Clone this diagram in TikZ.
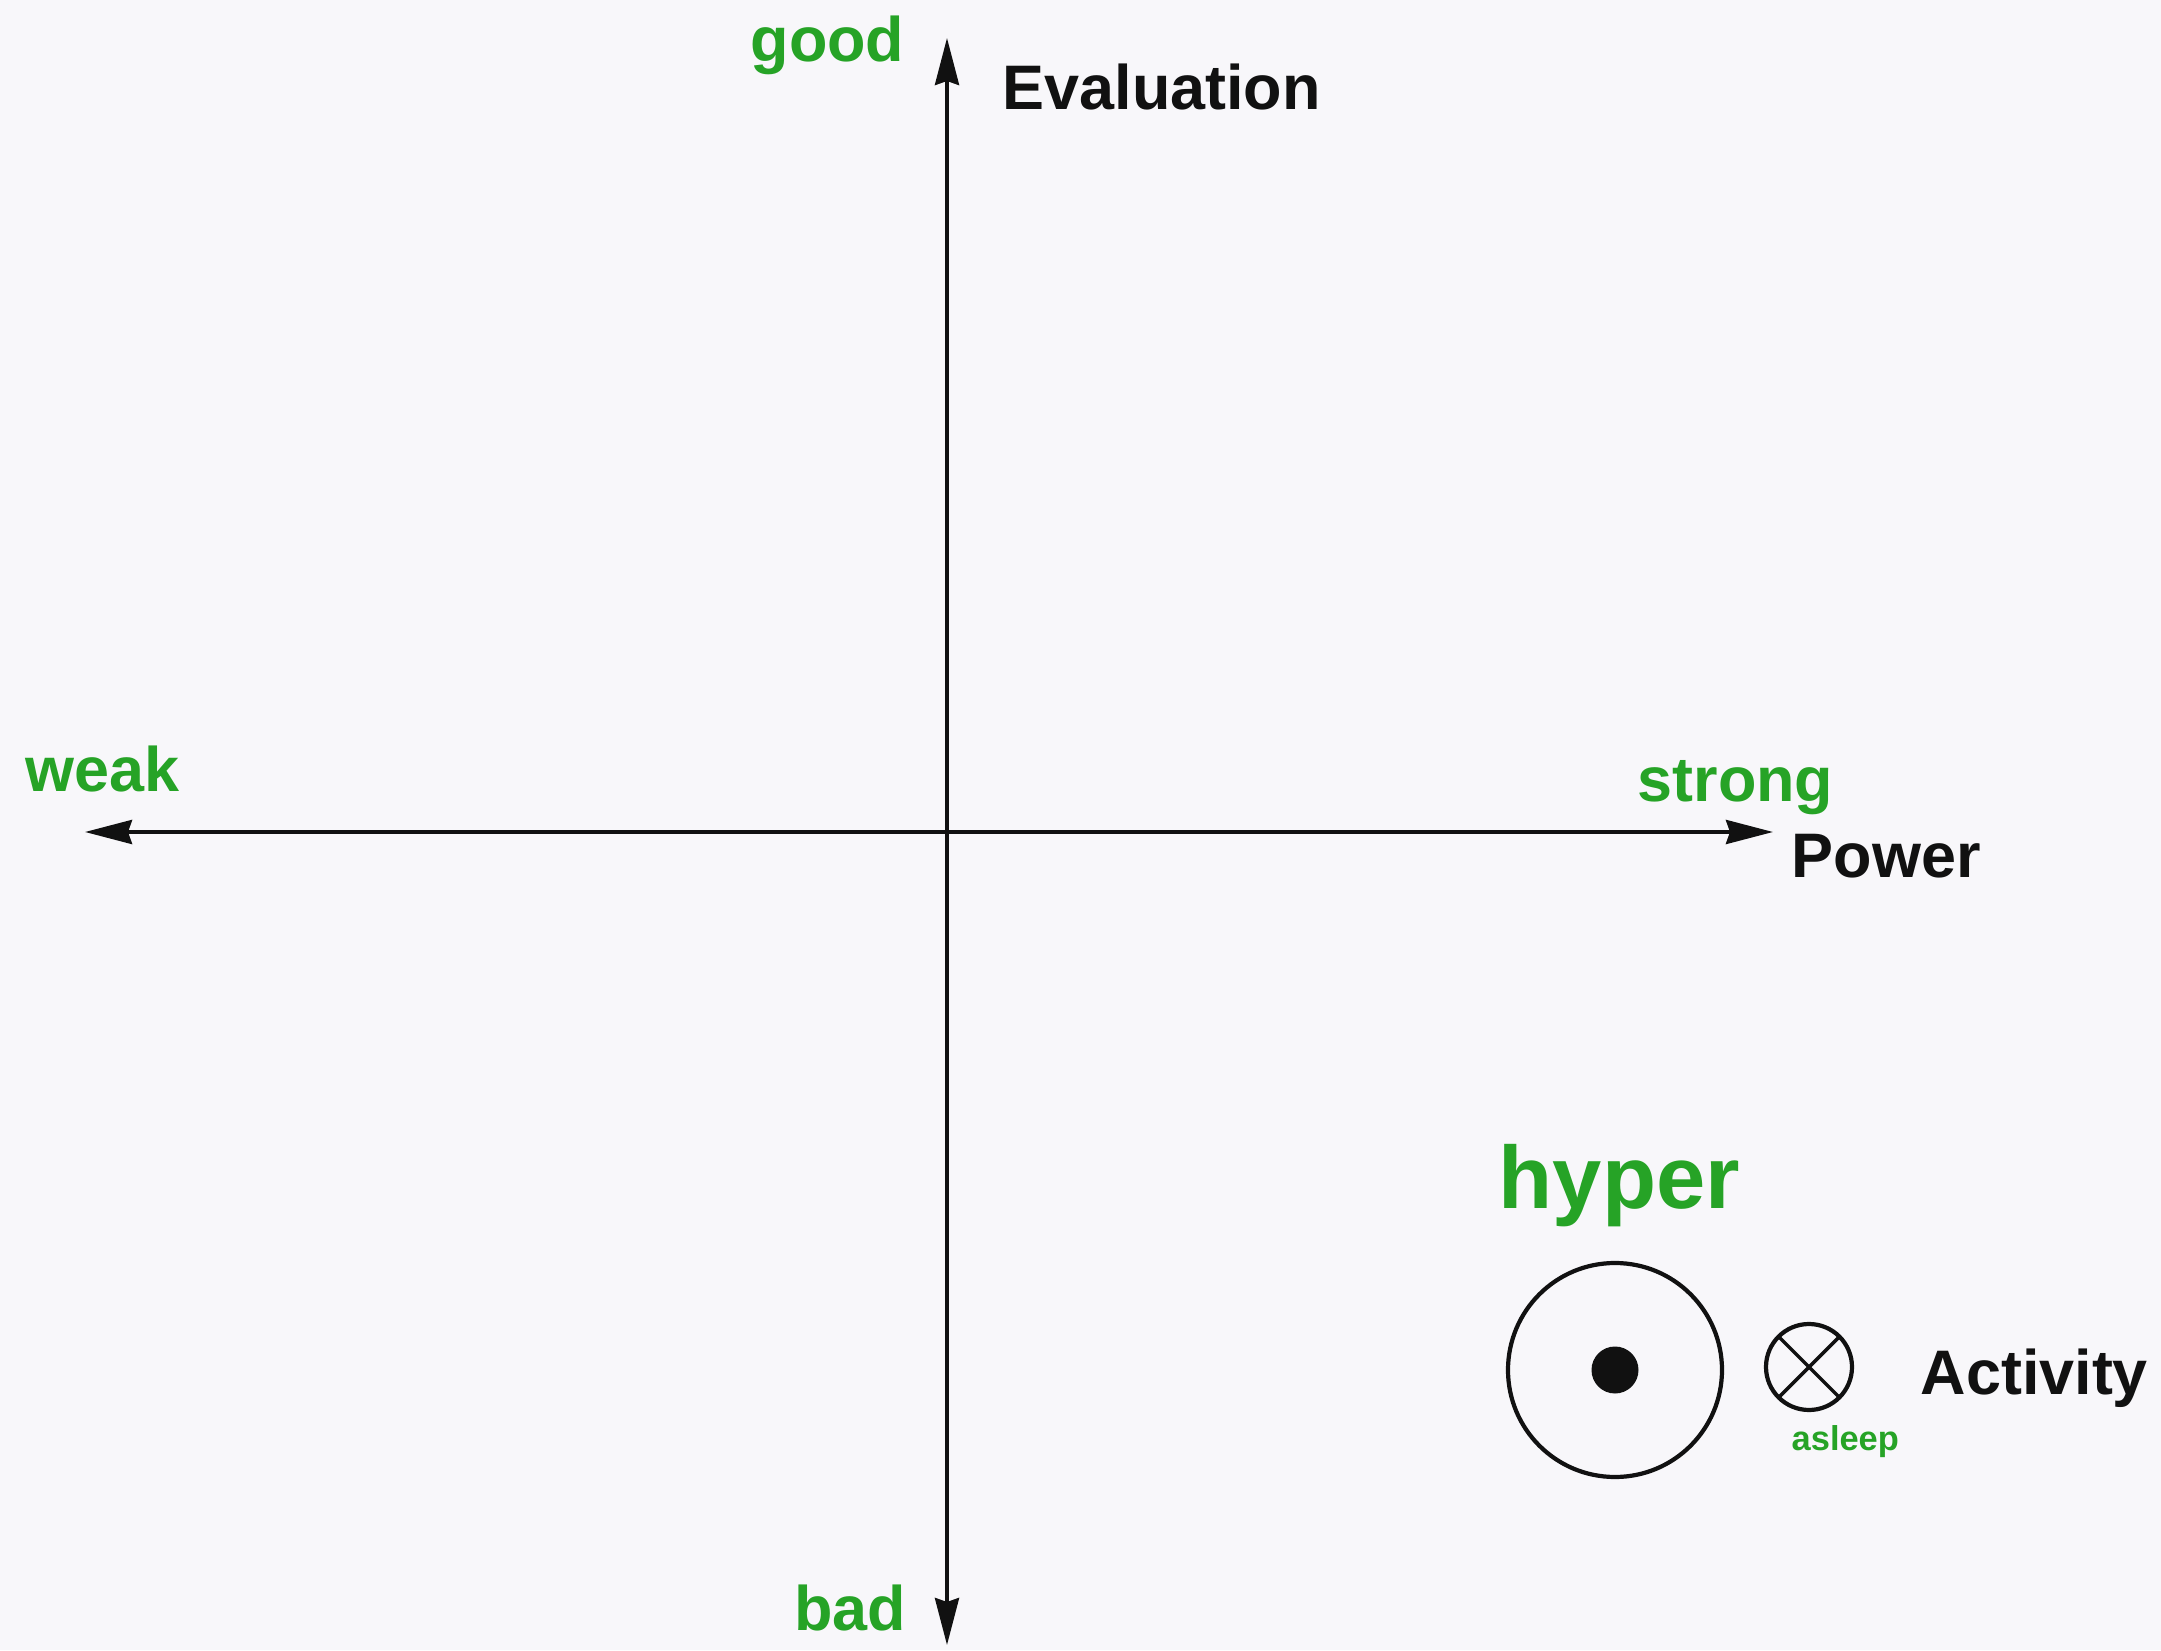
\documentclass[tikz,border=0pt]{standalone}
\usepackage{fontspec}
\setmainfont{Liberation Sans}
\usetikzlibrary{arrows.meta,positioning}
\definecolor{polegreen}{HTML}{26A326}
\definecolor{paper}{HTML}{F8F7FA}
\definecolor{ink}{HTML}{111111}

\begin{document}
\begin{tikzpicture}[
  axis/.style={<->,>={Stealth[length=4.7mm,width=2.4mm,inset=0.4mm]},line width=1.1pt,draw=ink},
  pole/.style={inner sep=0pt,text=polegreen,font=\fontsize{17.9}{20}\selectfont\bfseries},
  dimname/.style={inner sep=0pt,text=ink,font=\fontsize{17.9}{20}\selectfont\bfseries},
  ring/.style={circle,draw=ink,line width=1.2pt,outer sep=0pt,inner sep=0pt}
]
\useasboundingbox (0,0) rectangle (21.61,16.5);
\fill[paper] (0,0) rectangle (21.61,16.5);
% axis ends
\coordinate (evaltop) at (9.47,16.12);
\coordinate (evalbot) at (9.47,0.05);
\coordinate (powleft) at (0.85,8.18);
\coordinate (powright) at (17.73,8.18);
\draw[axis] (evalbot) -- (evaltop);
\draw[axis] (powleft) -- (powright);
% labels of the axes
\node[pole,anchor=base east] (good) at (9.05,15.88) {good};
\node[dimname,anchor=base west] (evaluation) at (10.02,15.40) {Evaluation};
\node[pole,anchor=base east] (bad) at (9.07,0.20) {bad};
\node[pole,anchor=base west] (weak) at (0.25,8.58) {weak};
\node[pole,anchor=base west] (strong) at (16.37,8.48) {strong};
\node[dimname,anchor=base west] (power) at (17.91,7.72) {Power};
% activity: out of / into the page
\node[ring,minimum size=2.14cm] (hyperring) at (16.15,2.80) {};
\node[circle,fill=ink,inner sep=0pt,minimum size=0.47cm] (hyperdot) at (hyperring.center) {};
\node[pole,anchor=base west,font=\fontsize{25.2}{28}\selectfont\bfseries] (hyper) at (14.98,4.42) {hyper};
\node[ring,minimum size=0.86cm] (sleepmark) at (18.09,2.83) {};
\draw[ink,line width=1pt] (sleepmark.north west) -- (sleepmark.south east);
\draw[ink,line width=1pt] (sleepmark.north east) -- (sleepmark.south west);
\node[pole,anchor=base west,font=\fontsize{9.8}{11}\selectfont\bfseries] (asleep) at (17.91,2.00) {asleep};
\node[dimname,anchor=base west] (activity) at (19.20,2.56) {Activity};
\end{tikzpicture}
\end{document}
